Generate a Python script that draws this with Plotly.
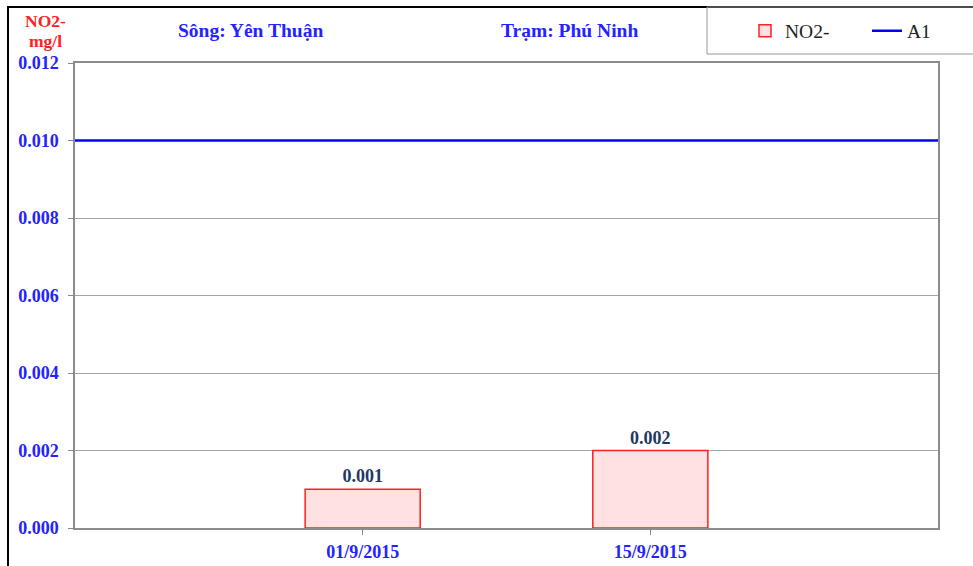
import plotly.graph_objects as go

# ---- data ----
categories = ["01/9/2015", "15/9/2015"]
cat_pos = [1, 2]
no2_values = [0.001, 0.002]
a1_limit = 0.010
y_ticks = [0.000, 0.002, 0.004, 0.006, 0.008, 0.010, 0.012]

# ---- layout constants ----
W, H = 973, 566
ML, MR, MT, MB = 75, 35, 63, 38
PW, PH = W - ML - MR, H - MT - MB
X_RANGE = [0, 3]

def px_x(p):
    return (p - ML) / PW

def px_y(p):
    return (H - MB - p) / PH

FONT = "Liberation Serif"
BLUE = "#2323ff"

fig = go.Figure()

fig.add_trace(go.Bar(
    x=cat_pos, y=no2_values, name="NO2-", width=0.4,
    marker=dict(color="#ffe1e1", line=dict(color="#ff2020", width=1.5)),
    texttemplate="%{y:.3f}", textposition="outside",
    textfont=dict(family=FONT, size=18, color="#1f3864", weight="bold"),
    cliponaxis=False,
))

fig.add_trace(go.Scatter(
    x=X_RANGE, y=[a1_limit, a1_limit], name="A1", mode="lines",
    line=dict(color="#0000ff", width=2.5),
))

fig.update_layout(
    width=W, height=H,
    margin=dict(l=ML, r=MR, t=MT, b=MB, autoexpand=False),
    paper_bgcolor="white", plot_bgcolor="white",
    showlegend=True,
    legend=dict(
        orientation="h", x=px_x(745), y=px_y(31), xanchor="left", yanchor="middle",
        font=dict(family=FONT, size=19.5, color="#222222"),
        bgcolor="rgba(0,0,0,0)", borderwidth=0,
        entrywidth=77, entrywidthmode="pixels",
    ),
    xaxis=dict(
        range=X_RANGE, tickvals=cat_pos, ticktext=categories,
        ticks="outside", ticklen=5, tickcolor="#888888",
        showline=True, linecolor="#8c8c8c", linewidth=1.5, mirror=True,
        showgrid=False, zeroline=False, automargin=False,
        tickfont=dict(family=FONT, size=18, color=BLUE, weight="bold"),
        ticklabelstandoff=2,
    ),
    yaxis=dict(
        range=[0, 0.012], tickvals=y_ticks, tickformat=".3f",
        ticks="outside", ticklen=5, tickcolor="#888888",
        showline=True, linecolor="#8c8c8c", linewidth=1.5, mirror=True,
        showgrid=True, gridcolor="#a6a6a6", gridwidth=1, zeroline=False,
        automargin=False,
        tickfont=dict(family=FONT, size=18, color=BLUE, weight="bold"),
        ticklabelstandoff=6,
    ),
    shapes=[
        # outer frame
        dict(type="rect", xref="paper", yref="paper",
             x0=px_x(8), x1=px_x(W + 20), y0=px_y(H + 20), y1=px_y(7),
             line=dict(color="black", width=2), fillcolor="rgba(0,0,0,0)", layer="below"),
        # legend box
        dict(type="rect", xref="paper", yref="paper",
             x0=px_x(707), x1=px_x(W + 20), y0=px_y(54), y1=px_y(7),
             line=dict(color="#999999", width=1), fillcolor="rgba(0,0,0,0)", layer="below"),
    ],
    annotations=[
        dict(text="NO2-", xref="paper", yref="paper", x=px_x(45), y=px_y(21),
             showarrow=False, xanchor="center", yanchor="middle",
             font=dict(family=FONT, size=17.5, color="#ff2020", weight="bold")),
        dict(text="mg/l", xref="paper", yref="paper", x=px_x(45), y=px_y(41),
             showarrow=False, xanchor="center", yanchor="middle",
             font=dict(family=FONT, size=17.5, color="#ff2020", weight="bold")),
        dict(text="Sông: Yên Thuận", xref="paper", yref="paper", x=px_x(250), y=px_y(31),
             showarrow=False, xanchor="center", yanchor="middle",
             font=dict(family=FONT, size=19.5, color=BLUE, weight="bold")),
        dict(text="Trạm: Phú Ninh", xref="paper", yref="paper", x=px_x(569), y=px_y(31),
             showarrow=False, xanchor="center", yanchor="middle",
             font=dict(family=FONT, size=19.5, color=BLUE, weight="bold")),
    ],
)

fig.write_html("out.html")
